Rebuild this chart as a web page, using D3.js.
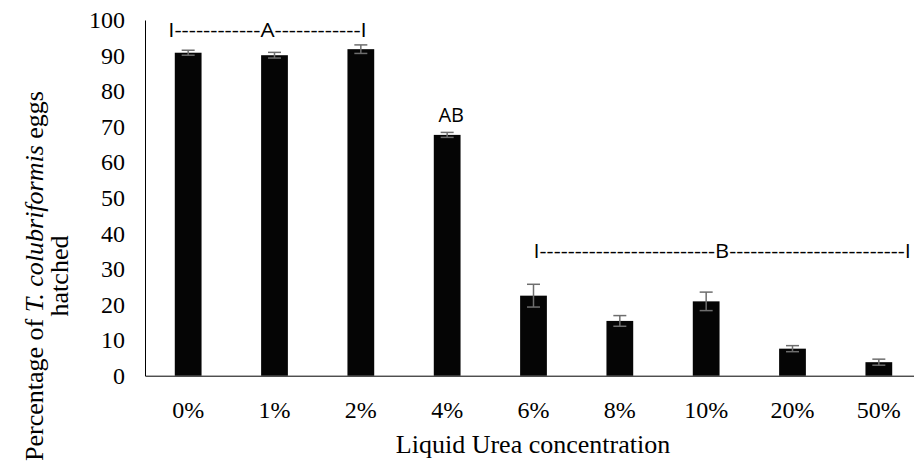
<!DOCTYPE html>
<html>
<head>
<meta charset="utf-8">
<script src="https://cdn.jsdelivr.net/npm/d3@7"></script>
<style>
  html, body { margin: 0; padding: 0; background: #fff; }
  svg { display: block; }
</style>
</head>
<body>
<svg id="chart" width="914" height="461"></svg>
<script>
const categories = ["0%", "1%", "2%", "4%", "6%", "8%", "10%", "20%", "50%"];
const hatchMeans = [90.8, 90.1, 91.8, 67.7, 22.5, 15.4, 20.9, 7.6, 3.8];
const hatchErrors = [0.7, 0.8, 1.2, 0.7, 3.2, 1.5, 2.6, 0.85, 0.85];
const yTickValues = [0, 10, 20, 30, 40, 50, 60, 70, 80, 90, 100];
const groupLetters = ["A", "AB", "B"];
const groupFrom = ["0%", "4%", "6%"];
const groupTo = ["2%", "4%", "50%"];
const groupLevel = [95.2, 71.2, 33.1];

const svg = d3.select("#chart");
const x = d3.scaleBand().domain(categories).range([145, 922]).paddingInner(0.69).paddingOuter(0.345);
const y = d3.scaleLinear().domain([0, 100]).range([375.7, 20]);

const SERIF = "Liberation Serif";

// axes: lines from library axes, labels from the same scales
const gy = svg.append("g").attr("transform", "translate(145,0)")
  .call(d3.axisLeft(y).tickValues(yTickValues).tickSize(0).tickFormat(""));
gy.select(".domain").attr("stroke", "#000").attr("stroke-width", 1);
gy.selectAll(".tick text").remove();

const gx = svg.append("g").attr("transform", `translate(0,${y(0)})`)
  .call(d3.axisBottom(x).tickSize(0).tickFormat(""));
gx.select(".domain").attr("stroke", "#000").attr("stroke-width", 1);
gx.selectAll(".tick text").remove();

// tick labels
svg.append("g").selectAll("text").data(yTickValues).join("text")
  .attr("font-family", SERIF).attr("font-size", 24).attr("fill", "#000")
  .attr("text-anchor", "end")
  .attr("x", 125).attr("y", d => y(d)).attr("dy", "0.34em")
  .text(d => d);

svg.append("g").selectAll("text").data(categories).join("text")
  .attr("font-family", SERIF).attr("font-size", 24).attr("fill", "#000")
  .attr("text-anchor", "middle")
  .attr("x", d => x(d) + x.bandwidth() / 2).attr("y", y(0) + 42)
  .text(d => d);

// bars
svg.append("g").selectAll("rect").data(categories).join("rect")
  .attr("x", d => x(d))
  .attr("width", x.bandwidth())
  .attr("y", (d, i) => y(hatchMeans[i]))
  .attr("height", (d, i) => y(0) - y(hatchMeans[i]))
  .attr("fill", "#050505");

// error bars
const eb = svg.append("g").attr("stroke", "#6e6e6e").attr("stroke-width", 1.5).attr("fill", "none");
categories.forEach((c, i) => {
  const cx = x(c) + x.bandwidth() / 2;
  const hi = y(hatchMeans[i] + hatchErrors[i]);
  const lo = y(hatchMeans[i] - hatchErrors[i]);
  eb.append("line").attr("x1", cx).attr("x2", cx).attr("y1", hi).attr("y2", lo);
  eb.append("line").attr("x1", cx - 6.5).attr("x2", cx + 6.5).attr("y1", hi).attr("y2", hi);
  eb.append("line").attr("x1", cx - 6.5).attr("x2", cx + 6.5).attr("y1", lo).attr("y2", lo);
});

// significance labels
const ann = svg.append("g").attr("font-family", "Open Sans").attr("font-size", 20).attr("fill", "#000");
groupLetters.forEach((letter, i) => {
  const cFrom = x(groupFrom[i]) + x.bandwidth() / 2;
  const cTo = x(groupTo[i]) + x.bandwidth() / 2;
  if (groupFrom[i] === groupTo[i]) {
    ann.append("text").attr("x", cFrom + 4).attr("y", y(groupLevel[i])).attr("text-anchor", "middle").text(letter);
  } else {
    const nd = letter === "A" ? 12 : 25;
    const start = cFrom - (letter === "A" ? 20 : 0);
    const end = cTo + (letter === "A" ? 6 : 32);
    ann.append("text")
      .attr("x", start).attr("y", y(groupLevel[i]))
      .attr("textLength", end - start).attr("lengthAdjust", "spacingAndGlyphs")
      .text("I" + "-".repeat(nd) + letter + "-".repeat(nd) + "I");
  }
});

// axis titles
svg.append("text")
  .attr("x", 533).attr("y", 453)
  .attr("text-anchor", "middle")
  .attr("font-family", SERIF).attr("font-size", 26).attr("fill", "#000")
  .text("Liquid Urea concentration");

const yt = svg.append("text")
  .attr("transform", "translate(43,276) rotate(-90)")
  .attr("text-anchor", "middle")
  .attr("font-family", SERIF).attr("font-size", 26).attr("fill", "#000");
yt.append("tspan").attr("x", 0).attr("y", 0).text("Percentage of ");
yt.append("tspan").attr("font-style", "italic").text("T. colubriformis");
yt.append("tspan").text(" eggs");
yt.append("tspan").attr("x", 0).attr("y", 25).text("hatched");
</script>
</body>
</html>
